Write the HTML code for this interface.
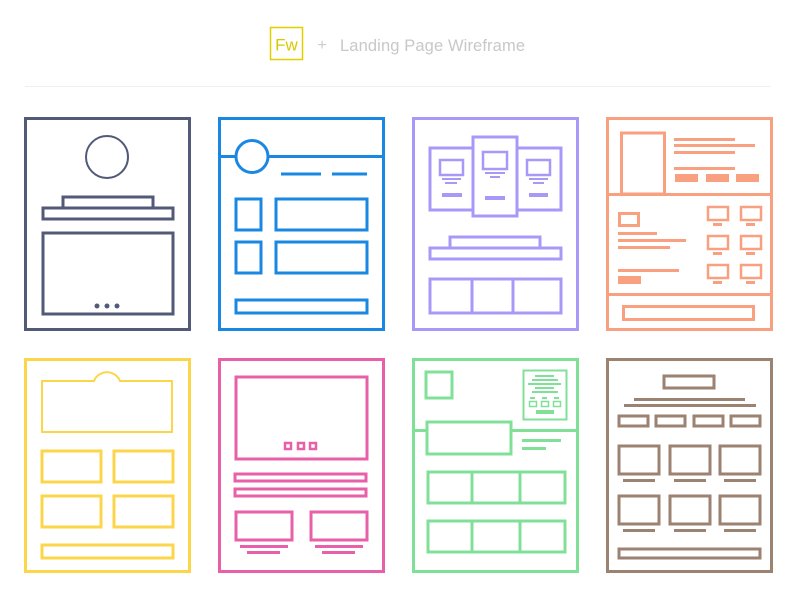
<!DOCTYPE html>
<html><head><style>body{margin:0;background:#fff}svg{display:block}</style></head><body>
<svg width="800" height="600" viewBox="0 0 800 600" xmlns="http://www.w3.org/2000/svg" fill="none">
<rect x="270.5" y="27.5" width="32" height="32" stroke="#e0d000" stroke-width="1.5"/>
<text x="286.5" y="50.5" text-anchor="middle" font-family="Liberation Sans, sans-serif" font-size="17" fill="#d8c800">Fw</text>
<text x="322" y="50" text-anchor="middle" font-family="Liberation Sans, sans-serif" font-size="16" fill="#ccc">+</text>
<text x="340" y="51" font-family="Liberation Sans, sans-serif" font-size="16.5" fill="#c8c8c8" textLength="185">Landing Page Wireframe</text>
<line x1="25" y1="86.5" x2="770" y2="86.5" stroke="#eee"/>

<g stroke="#525a78" stroke-width="3">
<rect x="25.5" y="118.5" width="164" height="211"/>
<circle cx="107" cy="157" r="21" stroke-width="2"/>
<rect x="63" y="197" width="90" height="11"/>
<rect x="43" y="208" width="130" height="11"/>
<rect x="43" y="233" width="130" height="81"/>
</g>
<g fill="#525a78"><circle cx="97" cy="306" r="2.5"/><circle cx="107" cy="306" r="2.5"/><circle cx="117" cy="306" r="2.5"/></g>

<g stroke="#1a88e2" stroke-width="3">
<rect x="219.5" y="118.5" width="164" height="211"/>
<line x1="219" y1="156.5" x2="384" y2="156.5"/>
<circle cx="252" cy="156.5" r="16" fill="#fff"/>
<line x1="281" y1="174" x2="321" y2="174"/>
<line x1="332" y1="174" x2="367" y2="174"/>
<rect x="236" y="199" width="25" height="31"/>
<rect x="236" y="242" width="25" height="31"/>
<rect x="276" y="199" width="91" height="31"/>
<rect x="276" y="242" width="91" height="31"/>
<rect x="236" y="300" width="131" height="13"/>
</g>

<g stroke="#a898f8" stroke-width="3">
<rect x="413.5" y="118.5" width="164" height="211"/>
<rect x="430" y="148" width="43" height="62"/>
<rect x="517" y="148" width="44" height="62"/>
<rect x="473" y="137" width="44" height="79" fill="#fff"/>
<rect x="440" y="160" width="23" height="15" stroke-width="2.5"/>
<rect x="483" y="152" width="24" height="17" stroke-width="2.5"/>
<rect x="527" y="160" width="23" height="15" stroke-width="2.5"/>
<rect x="450" y="237" width="90" height="11"/>
<rect x="430" y="248" width="131" height="11"/>
<rect x="430" y="279" width="131" height="34"/>
<line x1="472" y1="279" x2="472" y2="313"/><line x1="513" y1="279" x2="513" y2="313"/>
</g>
<g fill="#a898f8">
<rect x="442" y="178" width="19" height="2"/><rect x="445" y="182" width="12" height="2"/><rect x="442" y="193" width="20" height="4"/>
<rect x="485" y="172" width="20" height="2"/><rect x="490" y="176" width="10" height="2"/><rect x="485" y="196" width="20" height="4"/>
<rect x="529" y="178" width="19" height="2"/><rect x="533" y="182" width="11" height="2"/><rect x="529" y="193" width="19" height="4"/>
</g>

<g stroke="#f8a080" stroke-width="3">
<rect x="607.5" y="118.5" width="164" height="211"/>
<line x1="607" y1="194.5" x2="772" y2="194.5"/>
<line x1="607" y1="294.5" x2="772" y2="294.5"/>
<rect x="621.5" y="133" width="43" height="61"/>
<rect x="619.5" y="213.5" width="19" height="12"/>
<rect x="708" y="207" width="20" height="13" stroke-width="2.5"/><rect x="741" y="207" width="20" height="13" stroke-width="2.5"/>
<rect x="708" y="236" width="20" height="13" stroke-width="2.5"/><rect x="741" y="236" width="20" height="13" stroke-width="2.5"/>
<rect x="708" y="265" width="20" height="13" stroke-width="2.5"/><rect x="741" y="265" width="20" height="13" stroke-width="2.5"/>
<rect x="623.5" y="306.5" width="130" height="13"/>
</g>
<g fill="#f8a080">
<rect x="674" y="138" width="61" height="3"/><rect x="674" y="144" width="81" height="3"/><rect x="674" y="151" width="61" height="3"/><rect x="674" y="167" width="61" height="3"/>
<rect x="675" y="174" width="23" height="8"/><rect x="706" y="174" width="23" height="8"/><rect x="736" y="174" width="23" height="8"/>
<rect x="618" y="232" width="39" height="3"/><rect x="618" y="239" width="68" height="3"/><rect x="618" y="246" width="52" height="3"/><rect x="618" y="269" width="61" height="3"/>
<rect x="618" y="276" width="23" height="8"/>
<rect x="713" y="223" width="9" height="3"/><rect x="746" y="223" width="9" height="3"/>
<rect x="713" y="252" width="9" height="3"/><rect x="746" y="252" width="9" height="3"/>
<rect x="713" y="281" width="9" height="3"/><rect x="746" y="281" width="9" height="3"/>
</g>

<g stroke="#fcd64a" stroke-width="3">
<rect x="25.5" y="359.5" width="164" height="212"/>
<path d="M42 381 H94 A14 14 0 0 1 120 381 H172 V432 H42 Z" stroke-width="2"/>
<rect x="42" y="451" width="59" height="31"/><rect x="114" y="451" width="59" height="31"/>
<rect x="42" y="496" width="59" height="31"/><rect x="114" y="496" width="59" height="31"/>
<rect x="42" y="545" width="131" height="13"/>
</g>

<g stroke="#e860a8" stroke-width="3">
<rect x="219.5" y="359.5" width="164" height="212"/>
<rect x="236" y="377" width="131" height="82"/>
<rect x="285" y="443" width="6" height="6" stroke-width="2.5"/><rect x="298" y="443" width="6" height="6" stroke-width="2.5"/><rect x="310" y="443" width="6" height="6" stroke-width="2.5"/>
<rect x="235" y="474" width="131" height="7"/>
<rect x="235" y="489" width="131" height="7"/>
<rect x="236" y="512" width="56" height="28"/>
<rect x="311" y="512" width="56" height="28"/>
</g>
<g fill="#e860a8">
<rect x="240" y="545" width="48" height="3"/><rect x="247" y="551" width="33" height="3"/>
<rect x="315" y="545" width="48" height="3"/><rect x="322" y="551" width="33" height="3"/>
</g>

<g stroke="#80e098" stroke-width="3">
<rect x="413.5" y="359.5" width="164" height="212"/>
<line x1="413" y1="430.5" x2="578" y2="430.5"/>
<rect x="426" y="372" width="26" height="26"/>
<rect x="523.5" y="370.5" width="43" height="49" stroke-width="2"/>
<rect x="427" y="422" width="84" height="32" fill="#fff"/>
<rect x="428" y="472" width="137" height="31"/><line x1="472" y1="472" x2="472" y2="503"/><line x1="520" y1="472" x2="520" y2="503"/>
<rect x="428" y="521" width="137" height="31"/><line x1="472" y1="521" x2="472" y2="552"/><line x1="520" y1="521" x2="520" y2="552"/>
<rect x="529.5" y="401.5" width="7" height="5" stroke-width="1.5"/><rect x="541.5" y="401.5" width="7" height="5" stroke-width="1.5"/><rect x="553.5" y="401.5" width="7" height="5" stroke-width="1.5"/>
</g>
<g fill="#80e098">
<rect x="535" y="375" width="19" height="2"/><rect x="532" y="379" width="26" height="2"/><rect x="528" y="383" width="33" height="2"/><rect x="535" y="387" width="19" height="2"/><rect x="532" y="391" width="26" height="2"/>
<rect x="530" y="397" width="5" height="2"/><rect x="542" y="397" width="5" height="2"/><rect x="554" y="397" width="5" height="2"/>
<rect x="536" y="410" width="18" height="4"/>
<rect x="522" y="439" width="39" height="3"/><rect x="522" y="447" width="24" height="3"/>
</g>

<g stroke="#9c8270" stroke-width="3">
<rect x="607.5" y="359.5" width="164" height="212"/>
<rect x="664" y="376" width="50" height="12"/>
<rect x="619" y="416" width="29" height="10"/><rect x="656" y="416" width="29" height="10"/><rect x="694" y="416" width="29" height="10"/><rect x="731" y="416" width="29" height="10"/>
<rect x="619" y="446" width="40" height="28"/><rect x="670" y="446" width="40" height="28"/><rect x="720" y="446" width="40" height="28"/>
<rect x="619" y="496" width="40" height="28"/><rect x="670" y="496" width="40" height="28"/><rect x="720" y="496" width="40" height="28"/>
<rect x="619" y="549" width="141" height="9"/>
</g>
<g fill="#9c8270">
<rect x="634" y="398" width="111" height="3"/><rect x="624" y="404" width="132" height="3"/>
<rect x="623" y="479" width="32" height="3"/><rect x="674" y="479" width="32" height="3"/><rect x="724" y="479" width="32" height="3"/>
<rect x="623" y="529" width="32" height="3"/><rect x="674" y="529" width="32" height="3"/><rect x="724" y="529" width="32" height="3"/>
</g>
</svg>
</body></html>
